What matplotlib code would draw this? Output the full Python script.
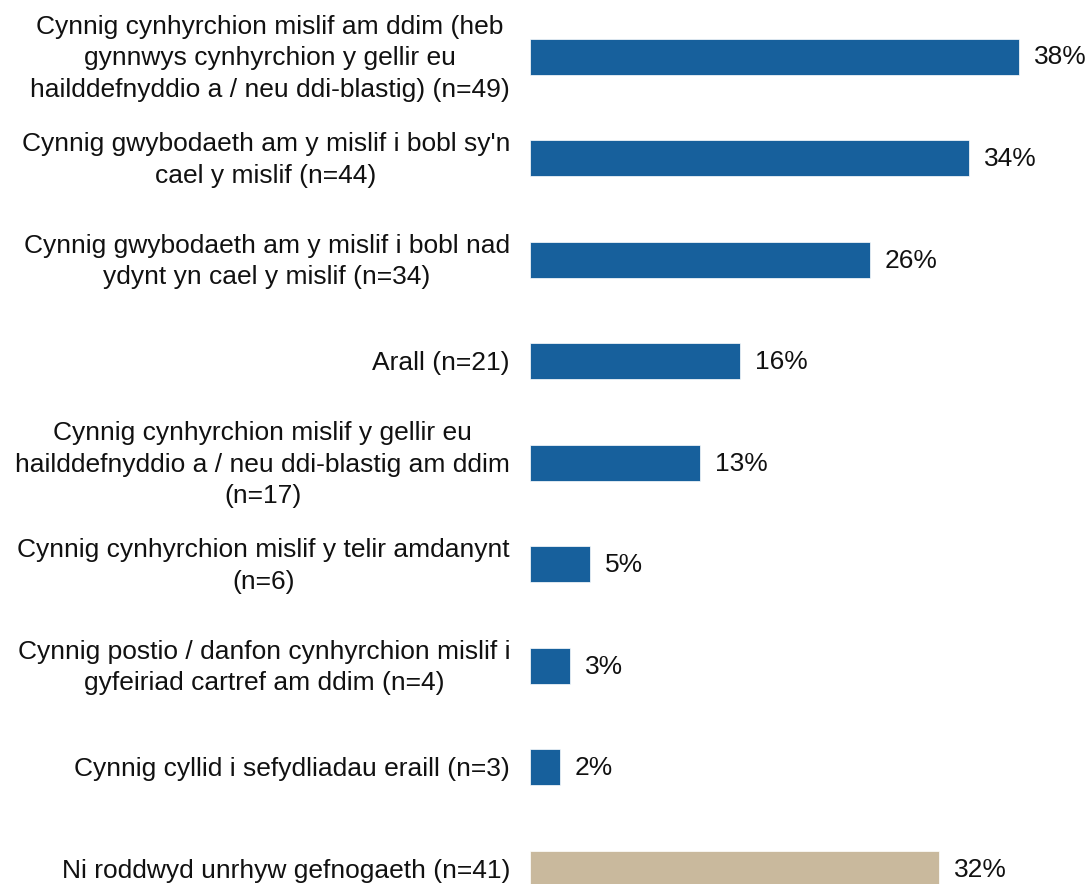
import matplotlib
matplotlib.use("Agg")
import matplotlib.pyplot as plt

plt.rcParams['font.family'] = ['Liberation Sans', 'DejaVu Sans']

labels = [
    "Cynnig cynhyrchion mislif am ddim (heb\ngynnwys cynhyrchion y gellir eu\nhailddefnyddio a / neu ddi-blastig) (n=49)",
    "Cynnig gwybodaeth am y mislif i bobl sy'n\ncael y mislif (n=44)",
    "Cynnig gwybodaeth am y mislif i bobl nad\nydynt yn cael y mislif (n=34)",
    "Arall (n=21)",
    "Cynnig cynhyrchion mislif y gellir eu\nhailddefnyddio a / neu ddi-blastig am ddim\n(n=17)",
    "Cynnig cynhyrchion mislif y telir amdanynt\n(n=6)",
    "Cynnig postio / danfon cynhyrchion mislif i\ngyfeiriad cartref am ddim (n=4)",
    "Cynnig cyllid i sefydliadau eraill (n=3)",
    "Ni roddwyd unrhyw gefnogaeth (n=41)",
]
values = [38.0, 34.1, 26.4, 16.3, 13.2, 4.7, 3.1, 2.3, 31.8]
value_labels = ["38%", "34%", "26%", "16%", "13%", "5%", "3%", "2%", "32%"]
colors = ['#17609C'] * 8 + ['#C9B99D']

W, H = 1091, 884
fig = plt.figure(figsize=(W / 100, H / 100), dpi=100)
left_px = 530
ax = fig.add_axes([left_px / W, 0, 1 - left_px / W, 1])

pitch = 101.5
c0 = 56.5
ax.set_ylim((H - c0) / pitch, -c0 / pitch)
px_per_unit = 12.86
ax.set_xlim(0, (W - left_px) / px_per_unit)

ys = list(range(len(values)))
ax.barh(ys, values, height=36 / pitch, color=colors, edgecolor='white', linewidth=0.5)

fs = 19
for y, v, vl, lab in zip(ys, values, value_labels, labels):
    ax.annotate(lab, xy=(0, y), xytext=(-20, -2), textcoords='offset pixels',
                ha='right', va='center', multialignment='center',
                fontsize=fs, color='#111111', linespacing=1.38, annotation_clip=False)
    ax.annotate(vl, xy=(v, y), xytext=(15, -1), textcoords='offset pixels',
                ha='left', va='center', fontsize=fs, color='#111111', annotation_clip=False)

ax.axis('off')
fig.savefig('out.png', dpi=100)
